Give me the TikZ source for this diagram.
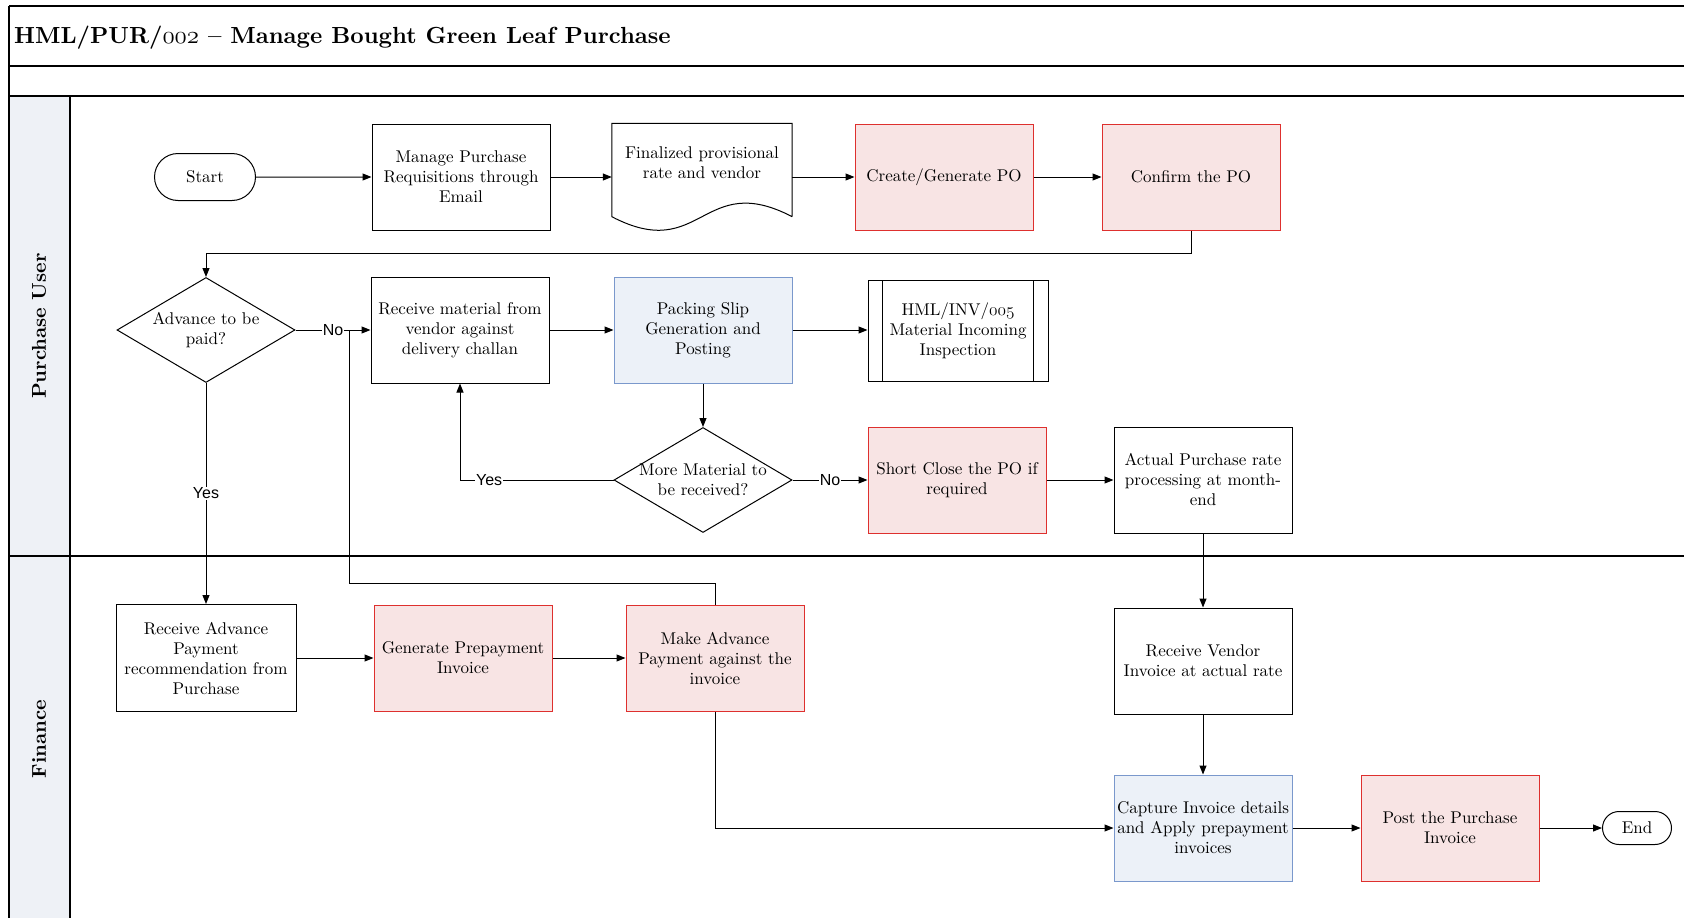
\documentclass[tikz,border=0pt]{standalone}
\usepackage{fontspec}
\newfontfamily\tagfamily{Liberation Sans}
\newfontfamily\boxfamily[Ligatures=TeX]{lmroman10-regular.otf}
\newfontfamily\boldfamily[Ligatures=TeX]{lmroman10-bold.otf}
\usetikzlibrary{arrows.meta,shapes.geometric,shapes.misc,calc}

\definecolor{redline}{RGB}{222,48,46}
\definecolor{redfill}{RGB}{248,228,228}
\definecolor{blueline}{RGB}{122,152,204}
\definecolor{bluefill}{RGB}{236,241,248}
\definecolor{lanefill}{RGB}{238,241,246}

\newcommand\boxfont{\boxfamily\fontsize{17}{20}\selectfont}
\newcommand\tagfont{\tagfamily\fontsize{16}{19}\selectfont}
\newcommand\lanefont{\boldfamily\fontsize{20}{24}\selectfont}
\newcommand\titlefont{\boldfamily\fontsize{23.3}{28}\selectfont}
\newcommand\osnum[1]{{\usefont{OML}{lmm}{m}{it}#1}}
\newcommand\osnumbold[1]{{\usefont{OML}{lmm}{b}{it}#1}}

\tikzset{
  frameline/.style={line width=1.2pt, black},
  base/.style={font=\boxfont, align=center, inner sep=2pt},
  task/.style={base, draw, line width=1pt, minimum width=178pt, minimum height=106pt},
  redtask/.style={task, draw=redline, fill=redfill},
  bluetask/.style={task, draw=blueline, fill=bluefill},
  decision/.style={diamond, draw, line width=1pt, minimum width=178pt, minimum height=105pt, inner sep=0pt},
  terminal/.style={base, rounded rectangle, draw, line width=1pt},
  flow/.style={line width=1pt, -{Triangle[length=9pt,width=7pt]}},
  plain/.style={line width=1pt},
  tag/.style={font=\tagfont, fill=white, inner sep=1pt},
}

\begin{document}
\begin{tikzpicture}[x=1pt, y=-1pt]
\useasboundingbox (0,0) rectangle (1684,918);

% pool frame and lanes
\fill[lanefill] (9,96) rectangle (70,918);
\draw[frameline] (9,6) -- (1684,6);
\draw[frameline] (9,6) -- (9,918);
\draw[frameline] (9,66) -- (1684,66);
\draw[frameline] (9,96) -- (1684,96);
\draw[frameline] (9,556) -- (1684,556);
\draw[frameline] (70,96) -- (70,918);

\node[anchor=base west, inner sep=0pt] (title) at (14,43)
  {\titlefont HML/PUR/\osnumbold{002} -- Manage Bought Green Leaf Purchase};
\node[rotate=90, font=\lanefont] (lanepu) at (39,326) {Purchase User};
\node[rotate=90, font=\lanefont] (lanefi) at (39,739) {Finance};

% purchase user lane
\node[terminal, minimum width=105pt, minimum height=47pt] (start) at (205,177) {Start};
\node[task] (mpr) at (461,177) {Manage Purchase\\Requisitions through\\Email};
\node[minimum width=180pt, minimum height=107pt, inner sep=0pt] (fin) at (702,177) {};
\draw[plain] ($(fin.south east)+(0,-14)$) -- (fin.north east) -- (fin.north west)
  -- ($(fin.south west)+(0,-14)$)
  .. controls ($(fin.south)+(0,33)$) and ($(fin.south)+(0,-61)$) .. ($(fin.south east)+(0,-14)$);
\node[base] (fintxt) at (702,163) {Finalized provisional\\rate and vendor};
\node[redtask] (cpo) at (944,177) {Create/Generate PO};
\node[redtask] (conf) at (1191,177) {Confirm the PO};

\node[decision] (adv) at (206,330) {};
\node[base] (advtxt) at (adv.center) {Advance to be\\paid?};
\node[task] (recv) at (460,330) {Receive material from\\vendor against\\delivery challan};
\node[bluetask] (pack) at (703,330) {Packing Slip\\Generation and\\Posting};
\node[task, minimum width=180pt, minimum height=101pt] (insp) at (958,331)
  {HML/INV/\osnum{005}\\Material Incoming\\Inspection};
\draw[plain] ([xshift=15pt]insp.north west) -- ([xshift=15pt]insp.south west);
\draw[plain] ([xshift=-15pt]insp.north east) -- ([xshift=-15pt]insp.south east);

\node[decision] (more) at (703,480) {};
\node[base] (moretxt) at (more.center) {More Material to\\be received?};
\node[redtask] (short) at (957,480) {Short Close the PO if\\required};
\node[task] (actual) at (1203,480) {Actual Purchase rate\\processing at month-\\end};

% finance lane
\node[task, minimum width=180pt, minimum height=107pt] (radv) at (206,658)
  {Receive Advance\\Payment\\recommendation from\\Purchase};
\node[redtask] (gen) at (463,658) {Generate Prepayment\\Invoice};
\node[redtask] (make) at (715,658) {Make Advance\\Payment against the\\invoice};
\node[task] (rven) at (1203,661) {Receive Vendor\\Invoice at actual rate};
\node[bluetask] (cap) at (1203,828) {Capture Invoice details\\and Apply prepayment\\invoices};
\node[redtask] (post) at (1450,828) {Post the Purchase\\Invoice};
\node[terminal, minimum width=71pt, minimum height=33pt, inner sep=1pt] (end) at (1637,828) {End};

% connectors
\coordinate (merge) at (349,330);
\coordinate (turn) at (349,583);

\draw[flow] (start) -- (mpr);
\draw[flow] (mpr) -- (fin);
\draw[flow] (fin) -- (cpo);
\draw[flow] (cpo) -- (conf);
\draw[flow] (conf.south) -- ++(0,22.5) -| (adv.north);
\draw[flow] (adv.east) -- node[tag] (no1) {No} (recv.west);
\draw[plain] (make.north) |- (turn) -- (merge);
\draw[flow] (adv.south) -- node[tag] (yes1) {Yes} (radv.north);
\draw[flow] (recv) -- (pack);
\draw[flow] (pack.east) -- (pack.east -| insp.west);
\draw[flow] (pack) -- (more);
\draw[flow] (more.west) -| node[tag, pos=0.405] (yes2) {Yes} (recv.south);
\draw[flow] (more.east) -- node[tag] (no2) {No} (short.west);
\draw[flow] (short) -- (actual);
\draw[flow] (actual) -- (rven);
\draw[flow] (radv) -- (gen);
\draw[flow] (gen) -- (make);
\draw[flow] (make.south) |- (cap.west);
\draw[flow] (rven) -- (cap);
\draw[flow] (cap) -- (post);
\draw[flow] (post) -- (end);
\end{tikzpicture}
\end{document}
